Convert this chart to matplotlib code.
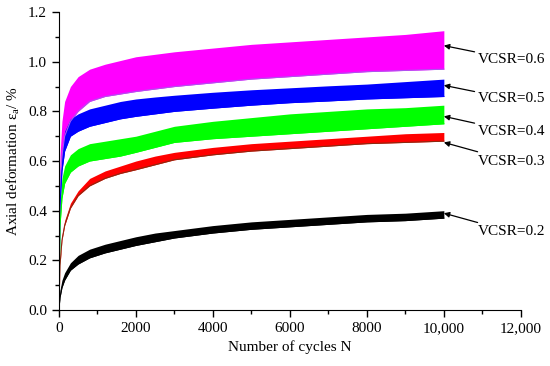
import matplotlib
matplotlib.use("Agg")
import matplotlib.pyplot as plt
from matplotlib.ticker import MultipleLocator, FuncFormatter

plt.rcParams["font.family"] = ["Liberation Serif", "DejaVu Serif"]
plt.rcParams["mathtext.fontset"] = "custom"
plt.rcParams["mathtext.rm"] = "Liberation Serif"
plt.rcParams["mathtext.it"] = "Liberation Serif:italic"

# cycle counts sampled along the curves
N = [0, 30, 80, 150, 300, 500, 800, 1200, 1600, 2000, 2500, 3000,
     4000, 5000, 6000, 7000, 8000, 9000, 10000]

# band envelopes (lower / upper axial deformation, %)
vcsr06_lo = [0, 0.50, 0.62, 0.70, 0.76, 0.80, 0.84, 0.86, 0.87, 0.88, 0.89, 0.90,
             0.915, 0.93, 0.94, 0.95, 0.96, 0.965, 0.97]
vcsr06_hi = [0, 0.62, 0.76, 0.84, 0.90, 0.94, 0.97, 0.99, 1.005, 1.02, 1.03, 1.04,
             1.055, 1.07, 1.08, 1.09, 1.10, 1.11, 1.125]
vcsr05_lo = [0, 0.42, 0.56, 0.64, 0.70, 0.72, 0.74, 0.755, 0.77, 0.78, 0.79, 0.80,
             0.813, 0.825, 0.835, 0.842, 0.85, 0.855, 0.86]
vcsr05_hi = [0, 0.50, 0.64, 0.72, 0.77, 0.79, 0.81, 0.825, 0.84, 0.85, 0.858, 0.865,
             0.877, 0.887, 0.895, 0.903, 0.91, 0.92, 0.93]
vcsr04_lo = [0, 0.34, 0.45, 0.51, 0.555, 0.58, 0.60, 0.61, 0.62, 0.635, 0.655, 0.675,
             0.69, 0.70, 0.71, 0.72, 0.73, 0.74, 0.75]
vcsr04_hi = [0, 0.42, 0.53, 0.58, 0.625, 0.65, 0.67, 0.68, 0.69, 0.70, 0.72, 0.74,
             0.76, 0.775, 0.79, 0.80, 0.81, 0.815, 0.825]
vcsr03_lo = [0, 0.18, 0.28, 0.34, 0.41, 0.46, 0.50, 0.53, 0.55, 0.565, 0.585, 0.605,
             0.625, 0.64, 0.65, 0.66, 0.67, 0.675, 0.68]
vcsr03_hi = [0, 0.20, 0.30, 0.36, 0.43, 0.48, 0.53, 0.56, 0.58, 0.60, 0.62, 0.635,
             0.655, 0.67, 0.68, 0.69, 0.70, 0.71, 0.715]
vcsr02_lo = [0, 0.05, 0.09, 0.12, 0.16, 0.185, 0.21, 0.23, 0.245, 0.26, 0.275, 0.29,
             0.31, 0.325, 0.335, 0.345, 0.355, 0.36, 0.37]
vcsr02_hi = [0, 0.08, 0.12, 0.15, 0.19, 0.22, 0.245, 0.265, 0.28, 0.295, 0.31, 0.32,
             0.34, 0.355, 0.365, 0.375, 0.385, 0.39, 0.40]

labels = ["VCSR=0.6", "VCSR=0.5", "VCSR=0.4", "VCSR=0.3", "VCSR=0.2"]
label_y = [1.01, 0.85, 0.72, 0.60, 0.315]
tip_y = [1.065, 0.905, 0.78, 0.675, 0.39]

bands = [
    (vcsr06_lo, vcsr06_hi, "#ff00ff", "#b050f0"),
    (vcsr05_lo, vcsr05_hi, "#0000ff", "#0000ff"),
    (vcsr04_lo, vcsr04_hi, "#00ff00", "#00ff00"),
    (vcsr03_lo, vcsr03_hi, "#ff0000", "#8b2a10"),
    (vcsr02_lo, vcsr02_hi, "#000000", "#000000"),
]

fig = plt.figure(figsize=(5.5, 3.66), dpi=100)
ax = fig.add_axes([0.107, 0.153, 0.840, 0.814])

for lo, hi, face, edge in bands:
    ax.fill_between(N, lo, hi, color=face, lw=0)
    ax.plot(N, lo, color=edge, lw=0.8)

for lab, ly, ty in zip(labels, label_y, tip_y):
    ax.annotate(lab, xy=(10000, ty), xytext=(10870, ly), fontsize=11,
                ha="left", va="center", annotation_clip=False,
                arrowprops=dict(arrowstyle="-|>", color="black", lw=0.9,
                                mutation_scale=8, shrinkA=0, shrinkB=0))

ax.set_xlim(0, 12000)
ax.set_ylim(0, 1.2)
ax.xaxis.set_major_locator(MultipleLocator(2000))
ax.xaxis.set_minor_locator(MultipleLocator(1000))
ax.yaxis.set_major_locator(MultipleLocator(0.2))
ax.yaxis.set_minor_locator(MultipleLocator(0.1))
ax.xaxis.set_major_formatter(FuncFormatter(
    lambda v, p: f"{int(v):,}" if v >= 10000 else f"{int(v)}"))
ax.yaxis.set_major_formatter(FuncFormatter(lambda v, p: f"{v:.1f}"))
ax.tick_params(which="both", direction="out", labelsize=11, width=1)
ax.tick_params(which="major", length=5)
ax.tick_params(which="minor", length=3)
ax.spines["top"].set_visible(False)
ax.spines["right"].set_visible(False)

ax.set_xlabel("Number of cycles N", fontsize=11)
ax.set_ylabel(r"Axial deformation ε$_{\mathrm{a}}$/ %", fontsize=11)

fig.savefig("out.png", dpi=100)
